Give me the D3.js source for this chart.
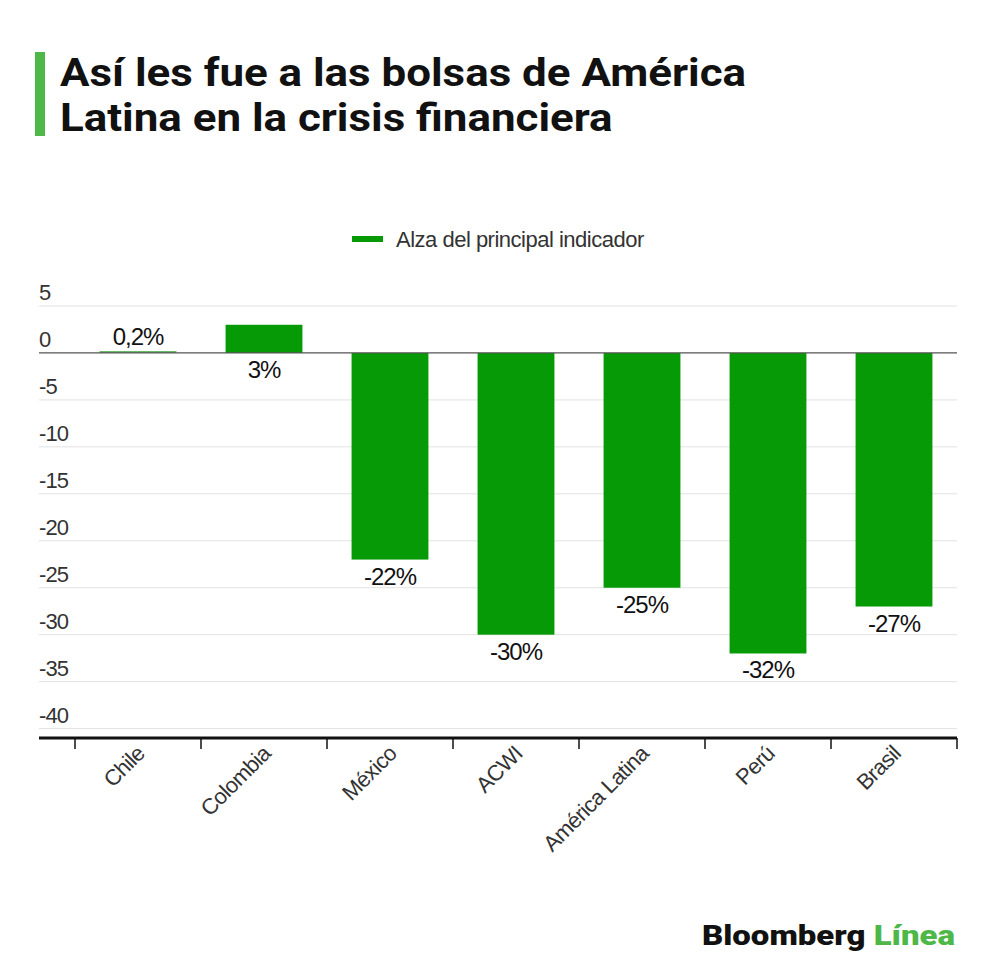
<!DOCTYPE html>
<html>
<head>
<meta charset="utf-8">
<script src="https://cdn.jsdelivr.net/npm/d3@7"></script>
<style>
  body { margin: 0; background: #fff; }
  svg { display: block; font-family: "Liberation Sans", Arial, sans-serif; }
</style>
</head>
<body>
<svg id="chart" width="1000" height="976"></svg>
<script>
// Bolsas de América Latina en la crisis financiera
const categories = ["Chile", "Colombia", "México", "ACWI", "América Latina", "Perú", "Brasil"];
const values = [0.2, 3, -22, -30, -25, -32, -27];
const yTicks = [5, 0, -5, -10, -15, -20, -25, -30, -35, -40];
const titleLines = ["Así les fue a las bolsas de América", "Latina en la crisis financiera"];
const legendLabel = "Alza del principal indicador";

const GREEN = "#069a06";

const svg = d3.select("#chart");
const left = 39, right = 957;

// Title: slightly wide glyphs, stretched via textLength
svg.append("rect").attr("x", 35).attr("y", 52).attr("width", 10).attr("height", 84).attr("fill", "#4db848");
svg.selectAll("text.title").data(titleLines).join("text")
    .attr("class", "title")
    .attr("x", 60).attr("y", (d, i) => 86 + i * 45)
    .style("font-family", "Roboto, sans-serif")
    .style("font-weight", 700)
    .style("font-size", "38px")
    .style("fill", "#111")
    .text(d => d)
    .each(function () {
        const w = this.getComputedTextLength();
        d3.select(this).attr("textLength", w * 1.155).attr("lengthAdjust", "spacingAndGlyphs");
    });

// Legend
svg.append("rect").attr("x", 352).attr("y", 236).attr("width", 31).attr("height", 6).attr("fill", GREEN);
svg.append("text").attr("x", 396).attr("y", 247)
    .style("font-size", "22px").style("letter-spacing", "-0.5px").style("fill", "#333")
    .text(legendLabel);

// Scales
const x = d3.scaleBand().domain(categories).range([75, right]).paddingInner(0.39).paddingOuter(0.195);
const y = d3.scaleLinear().domain([-41, 5]).range([738, 306]);

// Grid
svg.append("g").selectAll("line").data(yTicks.filter(t => t !== 0)).join("line")
    .attr("x1", left).attr("x2", right)
    .attr("y1", d => y(d)).attr("y2", d => y(d))
    .attr("stroke", "#e2e2e2").attr("stroke-width", 1);

svg.append("g").selectAll("text").data(yTicks).join("text")
    .attr("x", left).attr("y", d => y(d) - 6)
    .style("font-size", "22px").style("letter-spacing", "-0.9px").style("fill", "#333")
    .text(d => d);

// Bars
svg.append("g").selectAll("rect").data(values).join("rect")
    .attr("x", (d, i) => x(categories[i]))
    .attr("width", x.bandwidth())
    .attr("y", d => y(Math.max(0, d)))
    .attr("height", d => Math.max(Math.abs(y(d) - y(0)), 1))
    .attr("fill", (d, i) => Math.abs(d) < 1 ? "#5fb55f" : GREEN);

// Zero line
svg.append("line").attr("x1", left).attr("x2", right)
    .attr("y1", y(0)).attr("y2", y(0))
    .attr("stroke", "#555").attr("stroke-width", 1.2);

// Value labels
const fmt = v => String(v).replace(".", ",") + "%";
svg.append("g").selectAll("text").data(values).join("text")
    .attr("x", (d, i) => x(categories[i]) + x.bandwidth() / 2)
    .attr("y", d => (d >= 0 && d < 1) ? y(d) - 6 : y(Math.min(0, d)) + 25)
    .attr("text-anchor", "middle")
    .style("font-size", "24px").style("letter-spacing", "-1px").style("fill", "#111")
    .text(fmt);

// X axis
const axisY = y(-41);
svg.append("line").attr("x1", left).attr("x2", right)
    .attr("y1", axisY).attr("y2", axisY)
    .attr("stroke", "#111").attr("stroke-width", 3);

const off = (x.step() - x.bandwidth()) / 2;
const bounds = categories.map(c => x(c) - off).concat([right]);
svg.append("g").selectAll("line").data(bounds).join("line")
    .attr("x1", d => d).attr("x2", d => d)
    .attr("y1", axisY).attr("y2", axisY + 11)
    .attr("stroke", "#111").attr("stroke-width", 1.5);

svg.append("g").selectAll("text").data(categories).join("text")
    .attr("transform", d => `translate(${x(d) + x.bandwidth() / 2 + 8},${axisY + 17}) rotate(-45)`)
    .attr("text-anchor", "end")
    .style("font-size", "22px").style("letter-spacing", "-0.6px").style("fill", "#333")
    .text(d => d);

// Logo
const logo = svg.append("text").attr("x", 702).attr("y", 945)
    .style("font-family", "Roboto, sans-serif").style("font-weight", 900).style("font-size", "28px")
    .attr("textLength", 253).attr("lengthAdjust", "spacingAndGlyphs");
logo.append("tspan").style("fill", "#111").text("Bloomberg ");
logo.append("tspan").style("fill", "#4db848").text("Línea");
</script>
</body>
</html>
